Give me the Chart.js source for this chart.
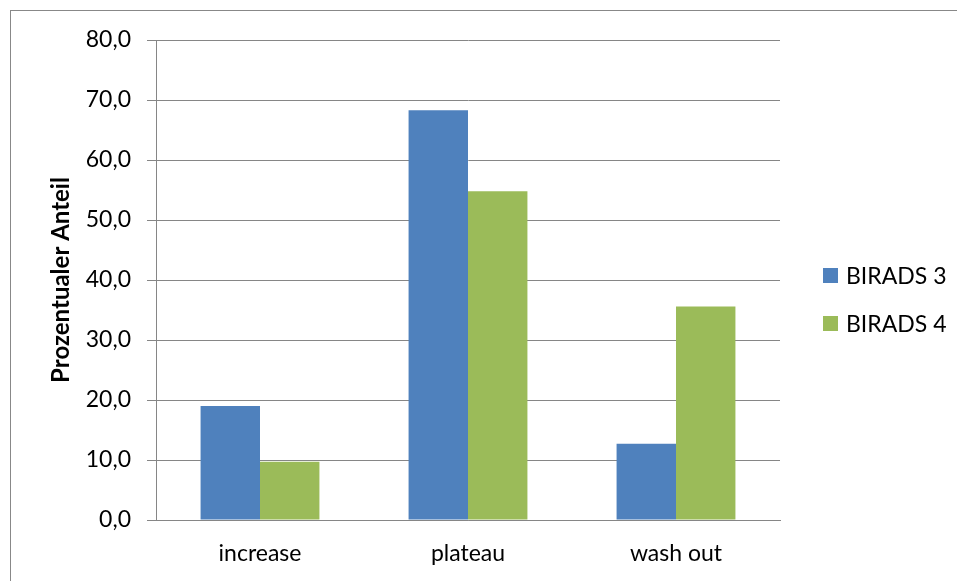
<!DOCTYPE html>
<html>
<head>
<meta charset="utf-8">
<script src="https://cdn.jsdelivr.net/npm/chart.js@4"></script>
<style>
html,body{margin:0;padding:0;background:#fff;}
#wrap{position:relative;width:957px;height:581px;overflow:hidden;background:#fff;}
#frame{position:absolute;left:10px;top:10px;width:2000px;height:2000px;border-left:1px solid #888;border-top:1px solid #888;}
#c{position:absolute;left:0;top:0;}
.lg{position:absolute;display:flex;align-items:center;height:28px;font-family:Lato, "Open Sans", sans-serif;font-size:23px;color:#000;white-space:nowrap;}
.lg .sw{width:15px;height:15px;margin-right:8px;}
</style>
</head>
<body>
<div id="wrap">
  <div id="frame"></div>
  <canvas id="c" width="957" height="581"></canvas>
</div>
<script>
const categories = ['increase', 'plateau', 'wash out'];
const birads3 = [19.0, 68.3, 12.7];
const birads4 = [9.7, 54.8, 35.6];
const seriesNames = ['BIRADS 3', 'BIRADS 4'];
const seriesColors = ['#4F81BD', '#9BBB59'];
const yTickLabels = ['0,0', '10,0', '20,0', '30,0', '40,0', '50,0', '60,0', '70,0', '80,0'];
const yTitle = 'Prozentualer Anteil';

const FONT = 'Lato, "Open Sans", sans-serif';
const GRID = '#868686';

const chart = new Chart(document.getElementById('c'), {
  type: 'bar',
  data: {
    labels: categories,
    datasets: [
      { label: seriesNames[0], data: birads3, backgroundColor: seriesColors[0], borderWidth: 0, categoryPercentage: 0.5714, barPercentage: 1 },
      { label: seriesNames[1], data: birads4, backgroundColor: seriesColors[1], borderWidth: 0, categoryPercentage: 0.5714, barPercentage: 1 }
    ]
  },
  options: {
    responsive: false,
    animation: false,
    devicePixelRatio: 1,
    layout: { padding: { left: 0, top: 40, right: 177, bottom: 0 } },
    plugins: { legend: { display: false }, tooltip: { enabled: false } },
    scales: {
      x: {
        grid: { display: true, drawOnChartArea: false, drawTicks: false, color: GRID },
        border: { display: true, color: GRID, width: 1 },
        ticks: { color: '#000', font: { family: FONT, size: 23 }, padding: 20 },
        afterFit: s => { s.height = 61; }
      },
      y: {
        min: 0, max: 80,
        ticks: { stepSize: 10, color: '#000', font: { family: FONT, size: 23 }, padding: 16,
                 callback: (v, i) => yTickLabels[i] },
        grid: { color: GRID, lineWidth: 1, tickLength: 9, drawTicks: true },
        border: { display: true, color: GRID, width: 1 },
        title: { display: true, text: yTitle, color: '#000', font: { family: FONT, size: 24, weight: 'bold' }, padding: { top: 47, bottom: 0 } },
        afterFit: s => { s.width = 156; }
      }
    }
  }
});

// legend as real text, built from series arrays
const wrap = document.getElementById('wrap');
const legendTops = [261, 309];
seriesNames.forEach((name, i) => {
  const row = document.createElement('div');
  row.className = 'lg';
  row.style.left = '823px';
  row.style.top = legendTops[i] + 'px';
  const sw = document.createElement('span');
  sw.className = 'sw';
  sw.style.background = seriesColors[i];
  const tx = document.createElement('span');
  tx.textContent = name;
  row.appendChild(sw);
  row.appendChild(tx);
  wrap.appendChild(row);
});
</script>
</body>
</html>
